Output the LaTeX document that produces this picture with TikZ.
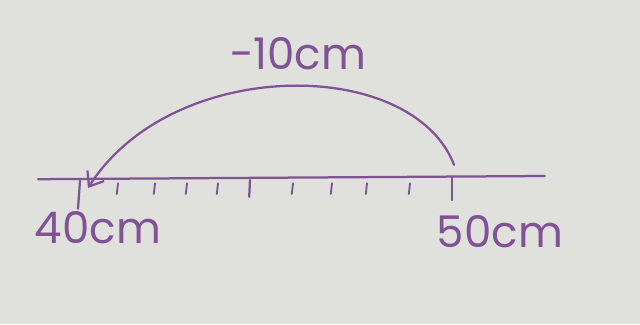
\documentclass[tikz,border=0pt]{standalone}
\usepackage{fontspec}
\setmainfont{Poppins}
\usepackage{xcolor}
\usepackage{tikz}
\usetikzlibrary{arrows.meta, positioning, calc}
\definecolor{penpurple}{RGB}{128, 82, 150}
\definecolor{papergray}{RGB}{224, 224, 221}

\begin{document}
\begin{tikzpicture}[
    pen/.style={draw=penpurple, line width=1.6pt, line cap=round},
    minortick/.style={pen, line width=1.3pt},
    label/.style={text=penpurple, font=\fontsize{31}{35}\selectfont, inner sep=0pt}
]
    % paper
    \fill[papergray] (0,0) rectangle (16,8.1);
    \useasboundingbox (0,0) rectangle (16,8.1);

    % number line
    \coordinate (lineL) at (0.95,3.62);
    \coordinate (lineR) at (13.62,3.7);
    \draw[pen] (lineL) -- (lineR);

    % ticks, 40cm to 50cm
    \foreach \x in {2.95,3.875,4.675,5.45,7.325,8.3,9.175,10.25} {
        \draw[minortick] (\x,3.52) -- ++(-0.03,-0.27);
    }
    \coordinate (t40) at (2.0,3.58);
    \coordinate (t45) at (6.25,3.6);
    \coordinate (t50) at (11.3,3.68);
    \draw[pen] (t40) -- ++(-0.05,-0.7);
    \draw[pen] (t45) -- ++(-0.02,-0.42);
    \draw[pen] (t50) -- ++(0,-0.58);

    \node[label] (l40) at (2.45,2.4) {40cm};
    \node[label] (l50) at (12.5,2.3) {50cm};

    % jump back
    \coordinate (from) at ($(t50)+(0.05,0.3)$);
    \coordinate (to) at (2.2,3.4);
    \draw[pen, -{Straight Barb[length=9pt, width=14pt]}]
        (from) .. controls (10.3,6.7) and (4.3,6.7) .. (to);
    \node[label] (jump) at (7.45,6.75) {−10cm};
\end{tikzpicture}
\end{document}
